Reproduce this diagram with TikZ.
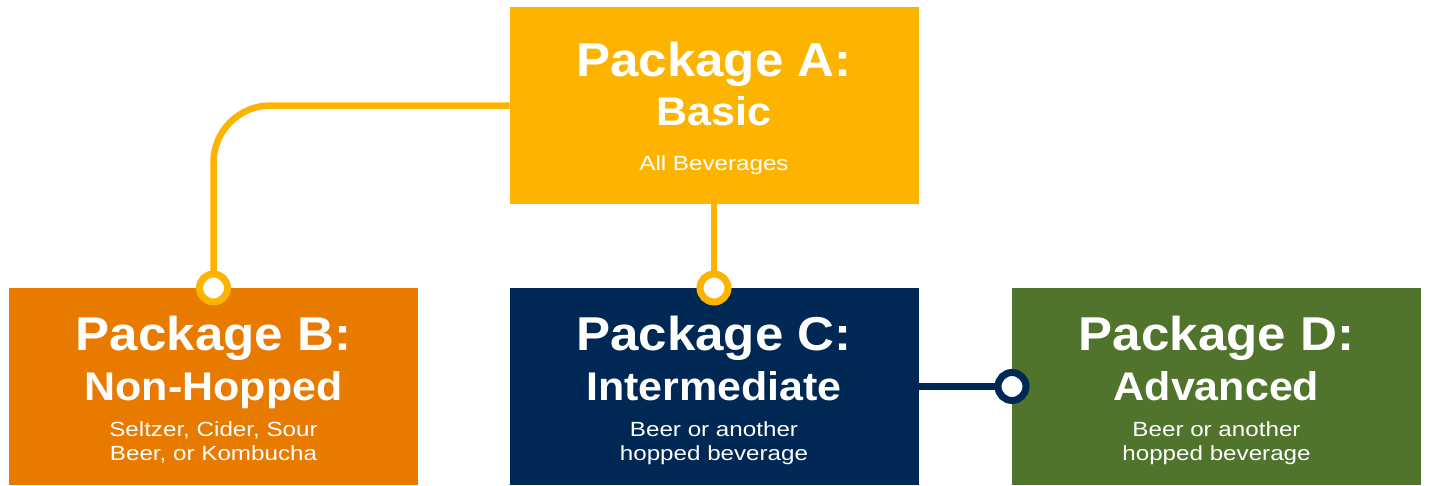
\documentclass[tikz,border=0pt]{standalone}
\usepackage{fontspec}
\setmainfont{Liberation Sans}
\newfontfamily\ttlfont[FakeStretch=1.075]{Liberation Sans}
\newfontfamily\descfont[FakeStretch=1.18]{Liberation Sans}
\definecolor{pkgyellow}{HTML}{FDB400}
\definecolor{pkgorange}{HTML}{E87A00}
\definecolor{pkgnavy}{HTML}{002855}
\definecolor{pkggreen}{HTML}{50742C}
\begin{document}
\begin{tikzpicture}[x=1pt,y=-1pt,
  pbox/.style={draw=none,minimum width=409pt,minimum height=197pt,inner sep=0pt,outer sep=0pt},
  ttl/.style={anchor=base,text=white,font=\ttlfont\fontsize{47.5}{50}\selectfont\bfseries,inner sep=0pt},
  sub/.style={anchor=base,text=white,font=\ttlfont\fontsize{40}{44}\selectfont\bfseries,inner sep=0pt},
  desc/.style={anchor=base,text=white,font=\descfont\fontsize{20.5}{24}\selectfont,inner sep=0pt},
  conn/.style={line width=6.5pt},
  dot/.style={circle,draw,line width=7pt,fill=white,minimum size=28pt,inner sep=0pt},
]
\path[use as bounding box,fill=white] (0,0) rectangle (1429,485);
% boxes
\node[pbox,fill=pkgyellow] (A) at (714,105.5) {};
\node[pbox,fill=pkgorange] (B) at (213.5,386.5) {};
\node[pbox,fill=pkgnavy] (C) at (714,386.5) {};
\node[pbox,fill=pkggreen] (D) at (1216.5,386.5) {};
% connector dots (positions)
\coordinate (pB) at (213.5,288);
\coordinate (pC) at (714,288);
\coordinate (pD) at (1012,386.5);
% connectors
\draw[conn,pkgyellow,rounded corners=57pt] (A.west) -| (pB);
\draw[conn,pkgyellow] (A.south) -- (pC);
\draw[conn,pkgnavy] (C.east) -- (pD);
\node[dot,draw=pkgyellow] (dB) at (pB) {};
\node[dot,draw=pkgyellow] (dC) at (pC) {};
\node[dot,draw=pkgnavy] (dD) at (pD) {};
% texts A
\node[ttl] (tA1) at (714,76.7) {Package A:};
\node[sub] (tA2) at (714,125) {Basic};
\node[desc] (tA3) at (714,170) {All Beverages};
% texts B
\node[ttl] (tB1) at (213.5,350) {Package B:};
\node[sub] (tB2) at (213.5,400) {Non-Hopped};
\node[desc] (tB3) at (213.5,436) {Seltzer, Cider, Sour};
\node[desc] (tB4) at (213.5,460) {Beer, or Kombucha};
% texts C
\node[ttl] (tC1) at (714,350) {Package C:};
\node[sub] (tC2) at (714,400) {Intermediate};
\node[desc] (tC3) at (714,436) {Beer or another};
\node[desc] (tC4) at (714,460) {hopped beverage};
% texts D
\node[ttl] (tD1) at (1216.5,350) {Package D:};
\node[sub] (tD2) at (1216.5,400) {Advanced};
\node[desc] (tD3) at (1216.5,436) {Beer or another};
\node[desc] (tD4) at (1216.5,460) {hopped beverage};
\end{tikzpicture}
\end{document}
